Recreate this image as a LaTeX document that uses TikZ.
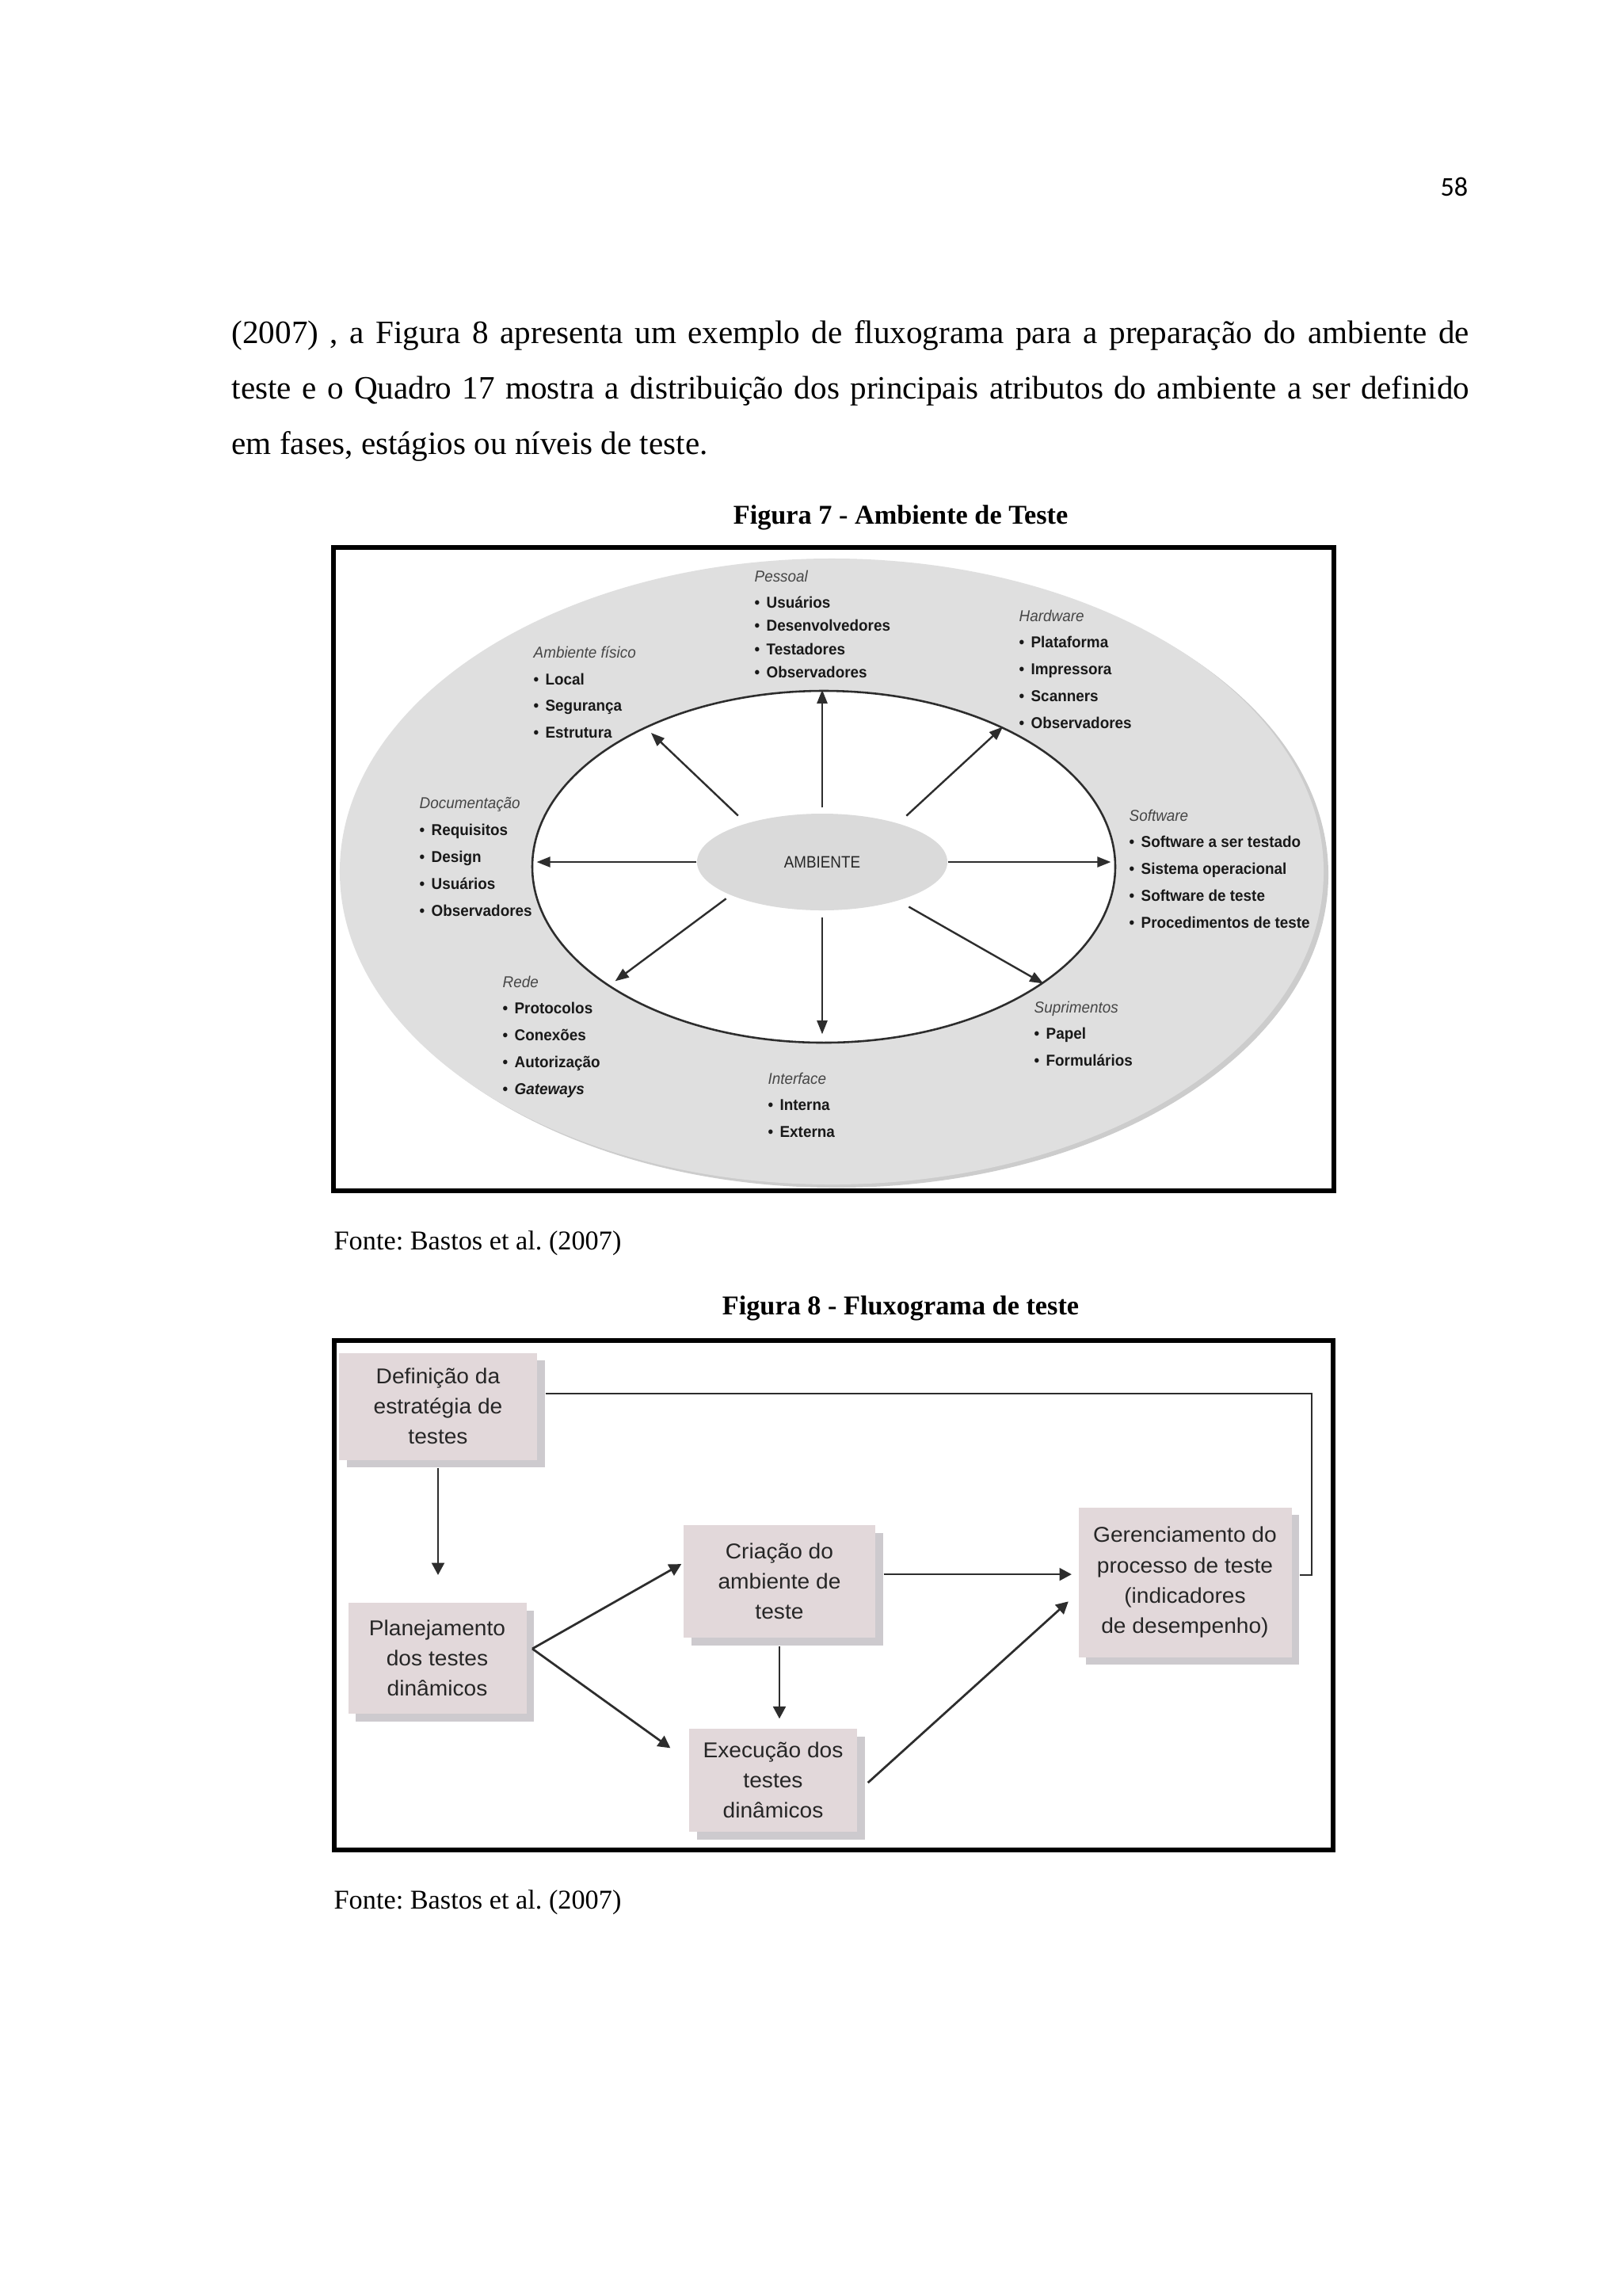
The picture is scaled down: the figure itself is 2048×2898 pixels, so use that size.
\documentclass[tikz,border=0pt]{standalone}
\usepackage{fontspec}
\setmainfont{Liberation Serif}
\newfontfamily\numfont{Carlito}
\newfontfamily\figfont[FakeStretch=0.95]{Liberation Sans}
\newfontfamily\ambfont[FakeStretch=0.9]{Liberation Sans}
\newfontfamily\fluxfont[FakeStretch=1.04]{Liberation Sans}
\usetikzlibrary{positioning,arrows.meta,shapes.geometric,shadows}
\definecolor{anelcor}{RGB}{223,223,223}
\definecolor{bordacor}{RGB}{204,204,204}
\definecolor{ambcor}{RGB}{218,218,218}
\definecolor{caixacor}{RGB}{226,216,218}
\definecolor{sombracor}{RGB}{205,202,206}
\definecolor{tracocor}{RGB}{45,45,45}
\definecolor{cabcor}{RGB}{70,70,70}
\newcommand{\cab}[1]{{\mdseries\itshape\color{cabcor}#1}}
\newcommand{\marca}{\textbullet\hspace{0.42em}}
\frenchspacing

\begin{document}
\begin{tikzpicture}[x=0.010254cm, y=-0.010254cm,
  grupo/.style={anchor=north west, inner sep=0pt, align=left, text=black!90,
                font=\figfont\fontsize{5.8}{9.86}\selectfont\bfseries},
  grupojunto/.style={grupo, font=\figfont\fontsize{5.8}{8.63}\selectfont\bfseries},
  elipse/.style={ellipse, inner sep=0pt},
  seta/.style={draw=tracocor, line width=0.7pt, -{Triangle[length=5pt,width=3.8pt]}},
  caixa/.style={fill=caixacor, inner sep=0pt, align=center, text=black!85,
                font=\fluxfont\fontsize{7.9}{11.1}\selectfont,
                drop shadow={shadow xshift=2.9pt, shadow yshift=-2.9pt,
                             fill=sombracor, opacity=1}},
  fluxo/.style={draw=tracocor, line width=0.8pt},
  setafluxo/.style={fluxo, -{Triangle[length=4.5pt,width=4.6pt]}},
  moldura/.style={draw=black, line width=1.6pt},
  legenda/.style={font=\fontsize{10}{12}\selectfont\bfseries, anchor=base, inner sep=0pt},
  fonte/.style={font=\fontsize{10}{12}\selectfont, anchor=base west, inner sep=0pt},
  ]
  \useasboundingbox[fill=white] (0,0) rectangle (2048,2898);

  % cabecalho e texto
  \node[font=\numfont\fontsize{10}{12}\selectfont, anchor=base east, inner sep=0pt]
    (pagina) at (1854,247) {58};
  \node[anchor=north west, inner sep=0pt, text width=16.02cm, align=justify,
        font=\fontsize{12}{20.4}\selectfont] (texto) at (292,404)
    {(2007) , a Figura 8 apresenta um exemplo de fluxograma para a preparação do ambiente de\linebreak
     teste e o Quadro 17 mostra a distribuição dos principais atributos do ambiente a ser definido\linebreak
     em fases, estágios ou níveis de teste.};

  % Figura 7
  \node[legenda] (leg7) at (1137,661) {Figura 7 - Ambiente de Teste};
  \node[elipse, fill=bordacor, minimum width=12.736cm, minimum height=8.101cm] (borda) at (1056,1104) {};
  \node[elipse, fill=anelcor, minimum width=12.736cm, minimum height=8.101cm] (anel) at (1050,1100) {};
  \node[elipse, fill=white, draw=tracocor, line width=0.75pt,
        minimum width=7.547cm, minimum height=4.553cm] (interno) at (1040,1094) {};
  \node[elipse, fill=ambcor, minimum width=3.24cm, minimum height=1.251cm,
        font=\ambfont\fontsize{6.1}{7}\selectfont, text=black!85] (amb) at (1038,1088) {AMBIENTE};

  \draw[seta, shorten <=2pt] (amb.north) -- (amb.north |- interno.north);
  \draw[seta, shorten <=2.5pt, shorten >=3.5pt] (amb.south) -- (amb.south |- interno.south);
  \draw[seta, shorten >=2pt] (amb.west) -- (amb.west -| interno.west);
  \draw[seta, shorten >=2pt] (amb.east) -- (amb.east -| interno.east);
  \draw[seta, shorten <=4pt, shorten >=3.2pt] (amb.153) -- (interno.142);
  \draw[seta, shorten <=4pt] (amb.27) -- (interno.38);
  \draw[seta, shorten <=2pt, shorten >=3.2pt] (amb.200) -- (interno.209);
  \draw[seta, shorten <=4.4pt] (amb.333) -- (interno.332);

  \node[grupojunto] (pessoal) at (952,719)
    {\cab{Pessoal}\\[1pt]\marca Usuários\\\marca Desenvolvedores\\\marca Testadores\\\marca Observadores};
  \node[grupo] (fisico) at (673,815)
    {\cab{Ambiente físico}\\\marca Local\\\marca Segurança\\\marca Estrutura};
  \node[grupo] (hardware) at (1286,769)
    {\cab{Hardware}\\\marca Plataforma\\\marca Impressora\\\marca Scanners\\\marca Observadores};
  \node[grupo] (documentacao) at (529,1006)
    {\cab{Documentação}\\\marca Requisitos\\\marca Design\\\marca Usuários\\\marca Observadores};
  \node[grupo] (software) at (1425,1021)
    {\cab{Software}\\\marca Software a ser testado\\\marca Sistema operacional\\\marca Software de teste\\\marca Procedimentos de teste};
  \node[grupo] (rede) at (634,1231)
    {\cab{Rede}\\\marca Protocolos\\\marca Conexões\\\marca Autorização\\\marca \textit{Gateways}};
  \node[grupo] (suprimentos) at (1305,1263)
    {\cab{Suprimentos}\\\marca Papel\\\marca Formulários};
  \node[grupo] (interface) at (969,1353)
    {\cab{Interface}\\\marca Interna\\\marca Externa};

  \draw[moldura] (421,691) rectangle (1684,1503);
  \node[fonte] (fonte7) at (421,1577) {Fonte: Bastos et al. (2007)};

  % Figura 8
  \node[legenda] (leg8) at (1137,1659) {Figura 8 - Fluxograma de teste};
  \node[caixa, minimum width=2.564cm, minimum height=1.384cm] (def) at (553,1775)
    {Definição da\\estratégia de\\testes};
  \node[caixa, minimum width=2.307cm, minimum height=1.436cm] (plan) at (552,2093)
    {Planejamento\\dos testes\\dinâmicos};
  \node[caixa, minimum width=2.481cm, minimum height=1.456cm] (cria) at (984,1996)
    {Criação do\\ambiente de\\teste};
  \node[caixa, minimum width=2.174cm, minimum height=1.333cm] (exec) at (976,2247)
    {Execução dos\\testes\\dinâmicos};
  \node[caixa, minimum width=2.758cm, minimum height=1.938cm] (ger) at (1496,1997)
    {Gerenciamento do\\processo de teste\\(indicadores\\de desempenho)};
  \coordinate (retorno) at (1656,1988);

  \draw[setafluxo, shorten <=2.9pt, shorten >=10pt] (def.south) -- (def.south |- plan.north);
  \draw[fluxo, shorten >=2.9pt] ([shift={(2.9pt,4.7pt)}]def.east) -| (retorno) -- (retorno -| ger.east);
  \draw[setafluxo] ([shift={(2pt,3.5pt)}]plan.east) -- ([shift={(-0.6pt,6.4pt)}]cria.west);
  \draw[setafluxo] ([shift={(2pt,3.5pt)}]plan.east) -- ([shift={(-6.7pt,-7.3pt)}]exec.north west);
  \draw[setafluxo, shorten <=2.9pt, shorten >=3.5pt] (cria.south) -- (cria.south |- exec.north);
  \draw[setafluxo, shorten <=2.9pt, shorten >=2.3pt] ([yshift=2.6pt]cria.east) -- ([yshift=2.6pt]cria.east -| ger.west);
  \draw[setafluxo] ([shift={(3.8pt,-0.9pt)}]exec.east) -- ([shift={(-3.5pt,-7.1pt)}]ger.west);

  \draw[moldura] (422,1692) rectangle (1683,2335);
  \node[fonte] (fonte8) at (421,2409) {Fonte: Bastos et al. (2007)};
\end{tikzpicture}
\end{document}
